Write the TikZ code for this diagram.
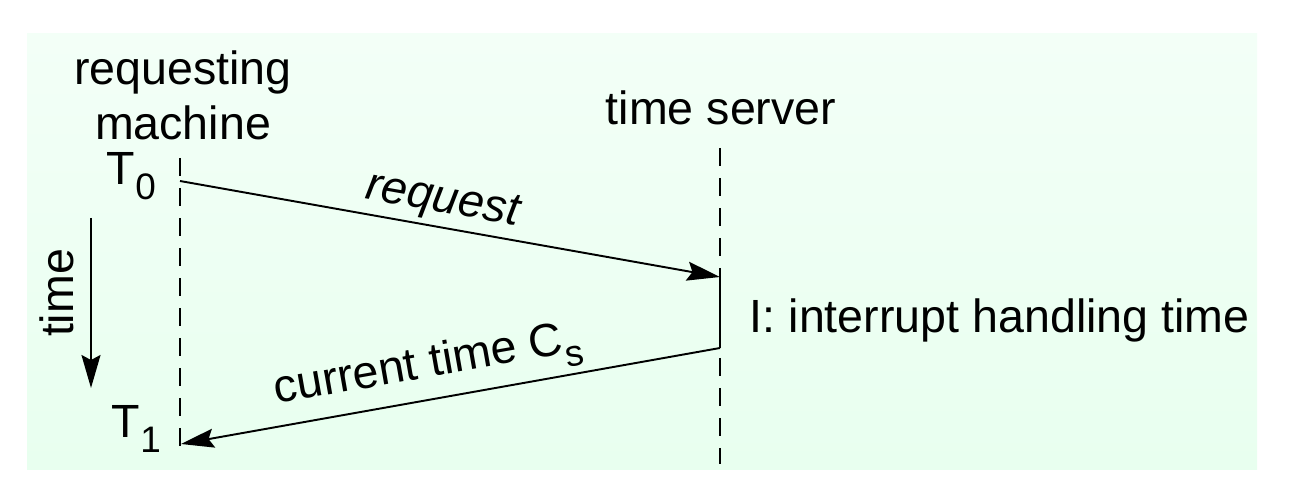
\documentclass[tikz,border=0pt]{standalone}
\usepackage{fontspec}
\setmainfont{Liberation Sans}
\usepackage{xcolor}
\usetikzlibrary{arrows.meta}
\definecolor{bgtop}{RGB}{243,255,247}
\definecolor{bgbot}{RGB}{232,255,239}
\newcommand{\lowsub}[1]{\raisebox{-8.5pt}{\fontsize{21}{24}\selectfont #1}}

\begin{document}
\begin{tikzpicture}
            [x=0.02cm, y=-0.02cm,
            line width=1.1pt,
            font=\fontsize{26.5}{31}\selectfont,
            >={Stealth[length=0.66cm,width=0.38cm,inset=0.1cm]},
            lifeline/.style = {dash pattern=on 0.36cm off 0.24cm},
            lbl/.style = {inner sep=0pt}]
            \useasboundingbox (0,0) rectangle (1298,492);
            \shade[top color=bgtop, bottom color=bgbot] (27,34) rectangle (1257,470);

            % Lineas de vida
            \coordinate (mtop) at (180,158);
            \coordinate (mbot) at (180,457);
            \coordinate (stop) at (720,148);
            \coordinate (sbot) at (720,464);
            \coordinate (t0) at (180,181);
            \coordinate (t1) at (181,444);
            \coordinate (srecv) at (720,277);
            \coordinate (ssend) at (720,348);
            \draw[lifeline] (mtop) -- (mbot);
            \draw[lifeline] (stop) -- (sbot);
            \draw (srecv) -- (ssend);

            % Mensajes
            \draw[->] (t0) -- (srecv);
            \draw[->] (ssend) -- (t1);

            % Eje de tiempo
            \coordinate (tstart) at (91,218);
            \coordinate (tend) at (91,388);
            \draw[->] (tstart) -- (tend);

            \node[lbl, anchor=base] (reqname) at (183,85) {requesting};
            \node[lbl, anchor=base] (machname) at (183,140) {machine};
            \node[lbl, anchor=base] (servname) at (721,125) {time server};
            \node[lbl, anchor=base west] (tzero) at (106,185) {T\lowsub{0}};
            \node[lbl, anchor=base west] (tone) at (111,438) {T\lowsub{1}};
            \node[lbl, anchor=base, rotate=90] (timelbl) at (73,293) {time};
            \node[lbl, anchor=base, rotate=-10] (reqlbl) at (441,212) {\itshape request};
            \node[lbl, anchor=base, rotate=10] (curlbl) at (430,377) {current time C\lowsub{s}};
            \node[lbl, anchor=base west] (intlbl) at (749,333) {I: interrupt handling time};
        \end{tikzpicture}
\end{document}
